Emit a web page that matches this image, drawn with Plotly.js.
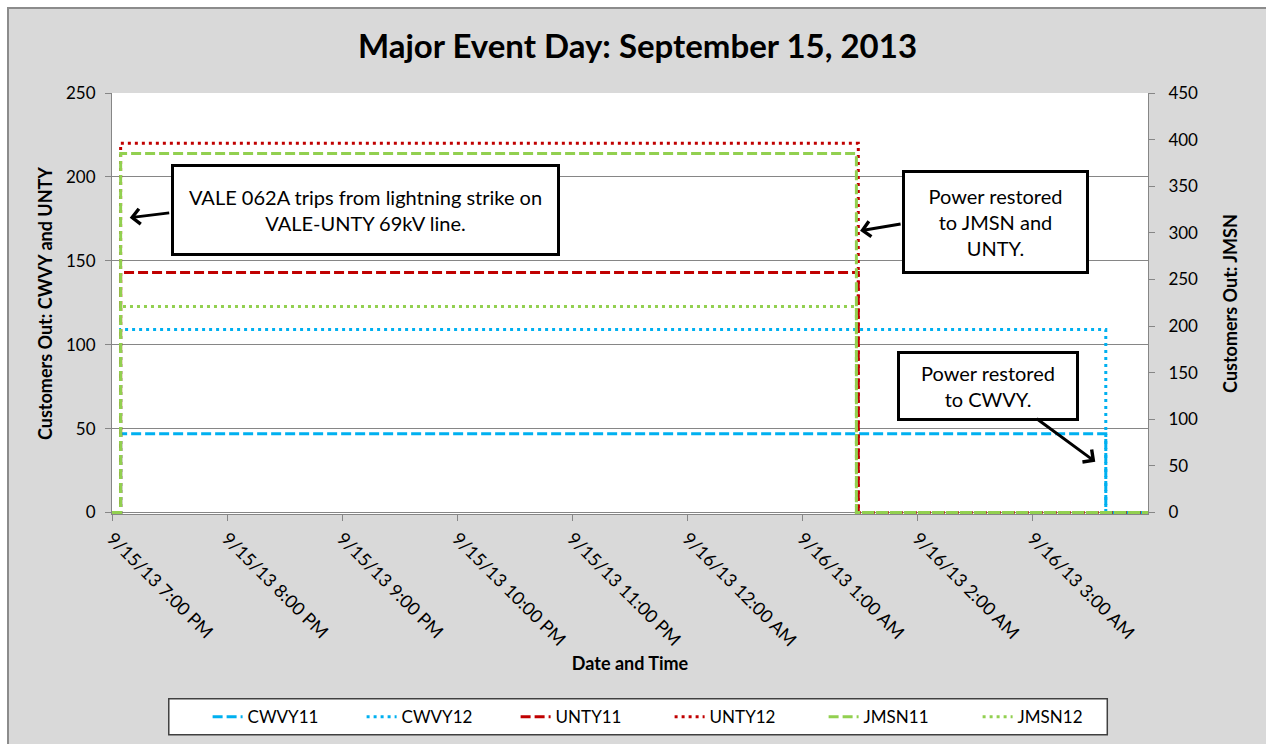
<!DOCTYPE html>
<html><head><meta charset="utf-8">
<script src="https://cdn.plot.ly/plotly-3.0.1.min.js"></script>
<style>
html,body{margin:0;padding:0;background:#fff;width:1266px;height:744px;overflow:hidden;}
#frame{position:absolute;left:7px;top:7px;width:1259px;height:737px;border-left:2px solid #8c8c8c;border-top:2px solid #8c8c8c;box-sizing:border-box;background:#d9d9d9;}
#chart{position:absolute;left:9px;top:9px;width:1257px;height:735px;}
</style></head>
<body><div id="frame"></div><div id="chart"></div>
<script>
// ---- data ----
const seriesNames = ['CWVY11', 'CWVY12', 'UNTY11', 'UNTY12', 'JMSN11', 'JMSN12'];
const cwvyTimes = ['2013-09-15 19:00', '2013-09-15 19:04:30', '2013-09-16 03:38', '2013-09-16 04:00'];
const untyTimes = ['2013-09-15 19:00', '2013-09-15 19:04:30', '2013-09-16 01:29', '2013-09-16 04:00'];
const jmsnTimes = ['2013-09-15 19:00', '2013-09-15 19:04:30', '2013-09-16 01:28', '2013-09-16 04:00'];
const cwvy11 = [0, 47, 0, 0];
const cwvy12 = [0, 109, 0, 0];
const unty11 = [0, 143, 0, 0];
const unty12 = [0, 220, 0, 0];
const jmsn11 = [0, 385, 0, 0];
const jmsn12 = [0, 221, 0, 0];
const xTickVals = ['2013-09-15 19:00', '2013-09-15 20:00', '2013-09-15 21:00', '2013-09-15 22:00', '2013-09-15 23:00',
  '2013-09-16 00:00', '2013-09-16 01:00', '2013-09-16 02:00', '2013-09-16 03:00'];
const xTickText = ['9/15/13 7:00 PM', '9/15/13 8:00 PM', '9/15/13 9:00 PM', '9/15/13 10:00 PM', '9/15/13 11:00 PM',
  '9/16/13 12:00 AM', '9/16/13 1:00 AM', '9/16/13 2:00 AM', '9/16/13 3:00 AM'];
const xRange = ['2013-09-15 19:00', '2013-09-16 04:00'];
const leftRange = [-0.9, 250];
const rightRange = [-1.62, 450];
const leftTicks = [0, 50, 100, 150, 200, 250];
const rightTicks = [0, 50, 100, 150, 200, 250, 300, 350, 400, 450];

// ---- styles ----
const FONT = 'Lato, "Open Sans", sans-serif';
const BLUE = '#00B0F0', RED = '#C00000', GREEN = '#92D050';
const DASH = '10px,4px', DOT = '3px,4px';
const AX = '#868686';

function tr(name, x, y, color, dash, yaxis) {
  return {type: 'scatter', mode: 'lines', name: name, x: x, y: y, yaxis: yaxis,
    line: {color: color, width: 3, dash: dash, shape: 'hv'}, hoverinfo: 'skip'};
}
const data = [
  tr(seriesNames[0], cwvyTimes, cwvy11, BLUE, DASH, 'y'),
  tr(seriesNames[1], cwvyTimes, cwvy12, BLUE, DOT, 'y'),
  tr(seriesNames[2], untyTimes, unty11, RED, DASH, 'y'),
  tr(seriesNames[3], untyTimes, unty12, RED, DOT, 'y'),
  tr(seriesNames[4], jmsnTimes, jmsn11, GREEN, DASH, 'y2'),
  tr(seriesNames[5], jmsnTimes, jmsn12, GREEN, DOT, 'y2')
];

const yTickFont = {family: FONT, size: 17, color: '#000'};
const xTickFont = {family: FONT, size: 18, color: '#000'};
const titleFont = {family: FONT, size: 18, color: '#000', weight: 'bold'};
const boxFont = {family: FONT, size: 20, color: '#000'};

function box(text, x, y, w, h) {
  return {xref: 'paper', yref: 'paper', x: x, y: y, xanchor: 'center', yanchor: 'middle',
    text: text, showarrow: false, align: 'center', valign: 'middle', width: w, height: h,
    bgcolor: '#fff', bordercolor: '#000', borderwidth: 3, borderpad: 0, font: boxFont};
}
function arrow(x, y, ax, ay) {
  return {xref: 'paper', yref: 'paper', x: x, y: y, text: '', showarrow: true, ax: ax, ay: ay,
    arrowhead: 4, arrowsize: 1, arrowwidth: 3, arrowcolor: '#000'};
}

const layout = {
  width: 1257, height: 735,
  paper_bgcolor: '#d9d9d9', plot_bgcolor: '#ffffff',
  margin: {l: 103, r: 118, t: 84, b: 230, autoexpand: false},
  showlegend: true,
  title: {text: 'Major Event Day: September 15, 2013', font: {family: FONT, size: 33, color: '#000', weight: 'bold'},
    x: 0.5, xref: 'container', xanchor: 'center', y: 0.949, yref: 'container', yanchor: 'middle'},
  xaxis: {type: 'date', range: xRange, tickvals: xTickVals, ticktext: xTickText, tickangle: 45,
    ticks: 'outside', ticklen: 6, tickcolor: AX, showline: true, linecolor: AX, linewidth: 1,
    showgrid: false, zeroline: false, tickfont: xTickFont,
    title: {text: 'Date and Time', font: titleFont, standoff: 7}},
  yaxis: {range: leftRange, tickmode: 'array', tickvals: leftTicks, ticks: 'outside', ticklen: 6, tickcolor: AX, showline: true,
    linecolor: AX, linewidth: 1, showgrid: true, gridcolor: AX, gridwidth: 1, zeroline: false,
    tickfont: yTickFont, ticklabelstandoff: 6,
    title: {text: 'Customers Out: CWVY and UNTY', font: titleFont, standoff: 8}},
  yaxis2: {range: rightRange, tickmode: 'array', tickvals: rightTicks, overlaying: 'y', side: 'right', ticks: 'outside', ticklen: 6,
    tickcolor: AX, showline: true, linecolor: AX, linewidth: 1, showgrid: false, zeroline: false,
    tickfont: yTickFont, ticklabelstandoff: 10,
    title: {text: 'Customers Out: JMSN', font: titleFont, standoff: 27}},
  legend: {orientation: 'h', xref: 'container', x: 0.158, xanchor: 'left', yref: 'container', y: 0.061,
    yanchor: 'top', bgcolor: 'rgba(0,0,0,0)', borderwidth: 0, font: {family: FONT, size: 17, color: '#000'},
    entrywidth: 109, entrywidthmode: 'pixels', traceorder: 'normal'},
  shapes: [
    {type: 'rect', xref: 'paper', yref: 'paper', x0: 0.0548, x1: 0.9607, y0: -0.4387, y1: -0.5242,
      fillcolor: '#fff', line: {color: '#404040', width: 1.5}, layer: 'above'}
  ],
  annotations: [
    box('VALE 062A trips from lightning strike on<br>VALE-UNTY 69kV line.', 0.2445, 0.7228, 383, 86),
    box('Power restored<br>to JMSN and<br>UNTY.', 0.853, 0.6943, 181, 98),
    box('Power restored<br>to CWVY.', 0.8458, 0.3048, 176, 64),
    arrow(0.0171, 0.7038, 41, -5),
    arrow(0.7221, 0.6729, 42, -7),
    arrow(0.9491, 0.1242, -60, -44)
  ]
};

Plotly.newPlot('chart', data, layout, {displayModeBar: false, staticPlot: true});
</script>
</body></html>
